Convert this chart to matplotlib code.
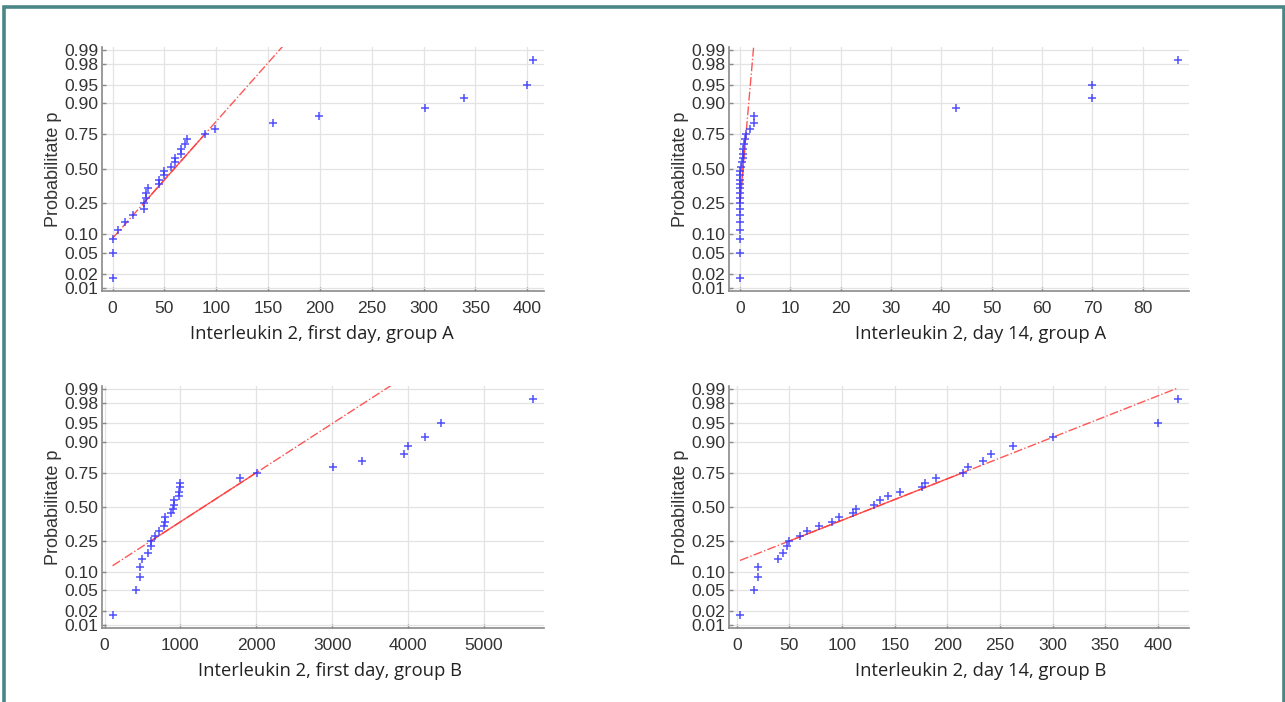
import numpy as np
import matplotlib
matplotlib.use('Agg')
import matplotlib.pyplot as plt
from matplotlib.patches import Rectangle
from statistics import NormalDist

# ---------------- data ----------------
day1_A = [0, 0, 0.5, 5, 12, 20, 30, 30, 32, 32, 34, 45, 45, 50, 50, 56, 60, 60,
          66, 66, 70, 72, 89, 99, 155, 199, 301, 339, 400, 406]
day14_A = [0, 0, 0, 0, 0, 0, 0, 0, 0, 0, 0, 0, 0, 0, 0.05, 0.15, 0.35, 0.55,
           0.65, 0.7, 0.9, 0.95, 1.2, 1.95, 2.7, 2.7, 43, 70, 70, 87]
day1_B = [105, 412, 465, 465, 500, 579, 610, 610, 667, 715, 781, 798, 798, 877,
          904, 912, 912, 987, 987, 1000, 1000, 1781, 2004, 3013, 3390, 3952,
          4000, 4228, 4430, 5654]
day14_B = [3, 16, 20, 20, 39, 44, 48, 50, 60, 67, 78, 90, 97, 110, 113, 130,
           136, 144, 155, 176, 179, 189, 215, 220, 234, 241, 262, 300, 400, 419]

xlabels = ["Interleukin 2, first day, group A", "Interleukin 2, day 14, group A",
           "Interleukin 2, first day, group B", "Interleukin 2, day 14, group B"]
xticks = [list(range(0, 401, 50)), list(range(0, 81, 10)),
          list(range(0, 5001, 1000)), list(range(0, 401, 50))]
prob_ticks = [0.01, 0.02, 0.05, 0.10, 0.25, 0.50, 0.75, 0.90, 0.95, 0.98, 0.99]
prob_labels = ["0.01", "0.02", "0.05", "0.10", "0.25", "0.50", "0.75", "0.90",
               "0.95", "0.98", "0.99"]
ylabel = "Probabilitate p"

datasets = [day1_A, day14_A, day1_B, day14_B]

# ---------------- layout ----------------
W, H = 1285, 702
fig = plt.figure(figsize=(W / 100, H / 100), dpi=100)
fig.patch.set_facecolor('white')

# axes boxes in pixels: (left, right, top, bottom)
boxes = [(102, 544, 47, 291), (729, 1189, 47, 291),
         (102, 544, 386, 628), (729, 1189, 386, 628)]
# horizontal offset (px) of each x-label centre relative to the axes centre
xlabel_shift = [-1, 22, 7, 22]

nd = NormalDist()
zf = nd.inv_cdf

tick_font = dict(family=['Liberation Sans', 'DejaVu Sans'], size=12.6)
grid_col = '#e3e3e3'
spine_col = '#8a8a8a'

for k, (data, box) in enumerate(zip(datasets, boxes)):
    l, r, t, b = box
    ax = fig.add_axes([l / W, 1 - b / H, (r - l) / W, (b - t) / H])
    x = np.sort(np.asarray(data, dtype=float))
    n = len(x)
    p = (np.arange(1, n + 1) - 0.5) / n
    zz = np.array([zf(v) for v in p])

    # reference line through quartiles
    q1, q3 = np.percentile(x, [25, 75], method='hazen')
    z1, z3 = zf(0.25), zf(0.75)
    slope = (z3 - z1) / (q3 - q1)
    xmin, xmax = x.min(), x.max()
    ax.plot([xmin, xmax], [z1 + slope * (xmin - q1), z1 + slope * (xmax - q1)],
            linestyle='-.', color='#ff3a3a', lw=1.0, alpha=0.85, zorder=2)
    ax.plot([q1, q3], [z1, z3], linestyle='-', color='#ff3a3a', lw=1.0,
            alpha=0.85, zorder=2)

    ax.plot(x, zz, linestyle='none', marker='+', color='#3333ff',
            markersize=6.0, markeredgewidth=1.1, alpha=0.85, zorder=3)

    rng = xmax - xmin
    ax.set_xlim(xmin - 0.025 * rng, xmax + 0.025 * rng)
    ax.set_ylim(-2.39, 2.38)

    ax.set_yticks([zf(v) for v in prob_ticks])
    ax.set_yticklabels(prob_labels, **tick_font, color='#333333')
    ax.set_xticks(xticks[k])
    ax.set_xticklabels([str(v) for v in xticks[k]], **tick_font, color='#333333')

    ax.grid(True, color=grid_col, lw=0.9)
    ax.set_axisbelow(True)
    for s in ['top', 'right']:
        ax.spines[s].set_visible(False)
    for s in ['left', 'bottom']:
        ax.spines[s].set_color(spine_col)
        ax.spines[s].set_linewidth(1.2)
    ax.tick_params(direction='in', length=3, width=1, color=spine_col,
                   pad=2.5)
    ax.tick_params(axis='x', pad=7)

    ax.set_ylabel(ylabel, family=['Liberation Sans', 'DejaVu Sans'],
                  size=13, color='#333333', labelpad=1.5)
    ax.set_xlabel(xlabels[k], family=['Open Sans', 'DejaVu Sans'],
                  size=13.2, color='#222222', labelpad=7,
                  x=0.5 + xlabel_shift[k] / (r - l))

# teal frame around the figure (open at the bottom)
fig.add_artist(Rectangle((4 / W, -0.05), (1283.5 - 4) / W, 1.05 - 6.5 / H,
                         transform=fig.transFigure, fill=False,
                         edgecolor='#4a8686', lw=2.6))

fig.savefig('out.png', dpi=100, facecolor='white')
